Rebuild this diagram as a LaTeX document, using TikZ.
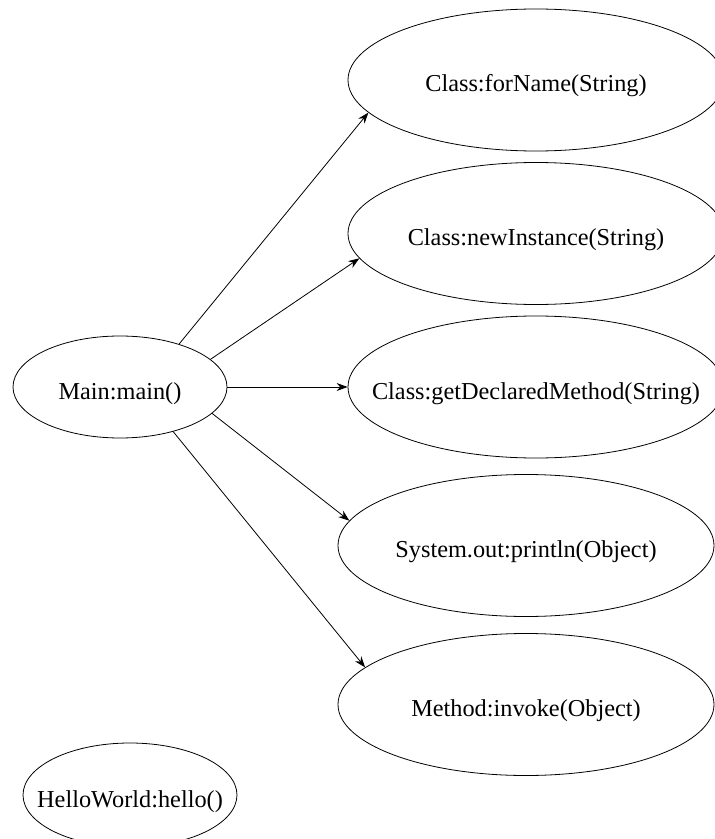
\documentclass[tikz,border=0pt]{standalone}
\usepackage{fontspec}
\setmainfont{Liberation Serif}
\usetikzlibrary{shapes.geometric, positioning, arrows.meta}

\newcommand{\callname}[1]{\makebox[0pt]{#1}}

\begin{document}
\begin{tikzpicture}[x=1pt, y=1pt, node distance=150pt, on grid, line width=0.8pt,
        >={Stealth[length=11pt,width=8pt]}]
        \tikzset{call/.style={ellipse, draw, inner sep=0pt, minimum width=376pt, minimum height=142pt,
            text height=28pt, text depth=4pt, font=\fontsize{24.3}{29}\selectfont}}
        % Smaller ellipses on the left
        \tikzstyle{small call}=[call, minimum width=214pt, minimum height=102pt]

        \useasboundingbox (-120,-452) rectangle (595,387);

        \node[small call] (main) {\callname{Main:main()}};
        \node[call] (getdecl) [right=416pt of main] {\callname{Class:getDeclaredMethod(String)}};
        \node[call] (newinst) [above=153.5pt of getdecl] {\callname{Class:newInstance(String)}};
        \node[call] (forname) [above=153.5pt of newinst] {\callname{Class:forName(String)}};
        \node[call,xshift=-10pt] (sysout) [below=158.5pt of getdecl] {\callname{System.out:println(Object)}};
        \node[call] (invoke) [below=159pt of sysout] {\callname{Method:invoke(Object)}};
        \node[small call,minimum height=104pt,xshift=10pt] (hello) [below=408pt of main] {\callname{HelloWorld:hello()}};

        \path[->]
        (main.36) edge (forname.191)
        (main.17) edge (newinst.188)
        (main.0) edge (getdecl.180)
        (main.-16) edge (sysout.172)
        (main.-40) edge (invoke.167);
    \end{tikzpicture}
\end{document}
